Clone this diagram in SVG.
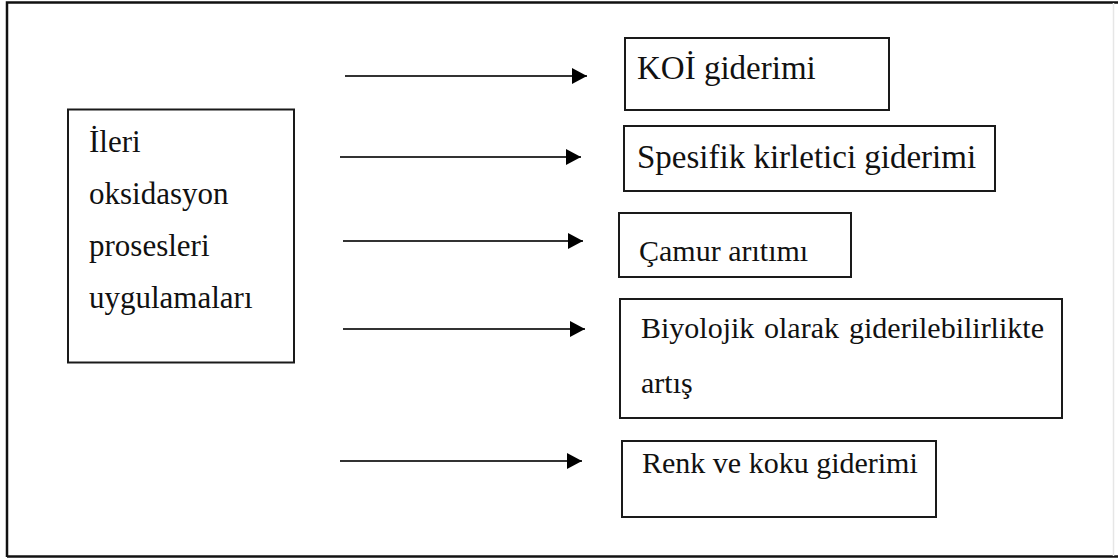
<svg xmlns="http://www.w3.org/2000/svg" width="1118" height="558" viewBox="0 0 1118 558">
<style>
.box{fill:#fff;stroke:#1a1a1a;stroke-width:2}
.t{font-family:'Liberation Serif','Times New Roman',serif;font-size:30px;fill:#111}
.big{font-size:33px}
.mid{font-size:31px}
.c{stroke:#333;stroke-width:2;fill:none}
.frame{stroke:#111;stroke-width:2.5;fill:none}
</style>
<defs>
<marker id="ah" markerUnits="userSpaceOnUse" markerWidth="16" markerHeight="16" refX="15" refY="8" orient="auto">
<path d="M0,0 L15,8 L0,16 Z" fill="#000"/>
</marker>
</defs>
<rect width="1118" height="558" fill="#fff"/>
<g id="frame">
<path class="frame" d="M7,557 L7,2.5 L1118,2.5"/>
<path class="frame" d="M7,556.5 L1118,556.5"/>
<path d="M1113.5,3 L1113.5,556" stroke="#e6e6e6" stroke-width="1.5" fill="none"/>
</g>
<g id="connectors">
<line class="c" x1="345" y1="76" x2="587" y2="76" marker-end="url(#ah)"/>
<line class="c" x1="340" y1="157" x2="581" y2="157" marker-end="url(#ah)"/>
<line class="c" x1="343" y1="241" x2="583" y2="241" marker-end="url(#ah)"/>
<line class="c" x1="343" y1="329" x2="585" y2="329" marker-end="url(#ah)"/>
<line class="c" x1="340" y1="461" x2="582" y2="461" marker-end="url(#ah)"/>
</g>
<g id="source">
<rect class="box" x="68" y="109.5" width="226" height="253"/>
<text class="t mid" x="89" y="152">İleri</text>
<text class="t mid" x="89" y="204">oksidasyon</text>
<text class="t mid" x="89" y="256">prosesleri</text>
<text class="t mid" x="89" y="308">uygulamaları</text>
</g>
<g id="koi">
<rect class="box" x="625" y="38" width="264" height="72"/>
<text class="t big" x="637" y="79">KOİ giderimi</text>
</g>
<g id="spesifik">
<rect class="box" x="624" y="126" width="371" height="65"/>
<text class="t big" x="637" y="168">Spesifik kirletici giderimi</text>
</g>
<g id="camur">
<rect class="box" x="619" y="213" width="232" height="64"/>
<text class="t" x="639" y="261">Çamur arıtımı</text>
</g>
<g id="biyolojik">
<rect class="box" x="620" y="299" width="442" height="119"/>
<text class="t" y="338"><tspan x="641">Biyolojik</tspan><tspan x="764">olarak</tspan><tspan x="849">giderilebilirlikte</tspan></text>
<text class="t" x="641" y="393">artış</text>
</g>
<g id="renk">
<rect class="box" x="622" y="441" width="314" height="76"/>
<text class="t" x="642" y="473">Renk ve koku giderimi</text>
</g>
</svg>
